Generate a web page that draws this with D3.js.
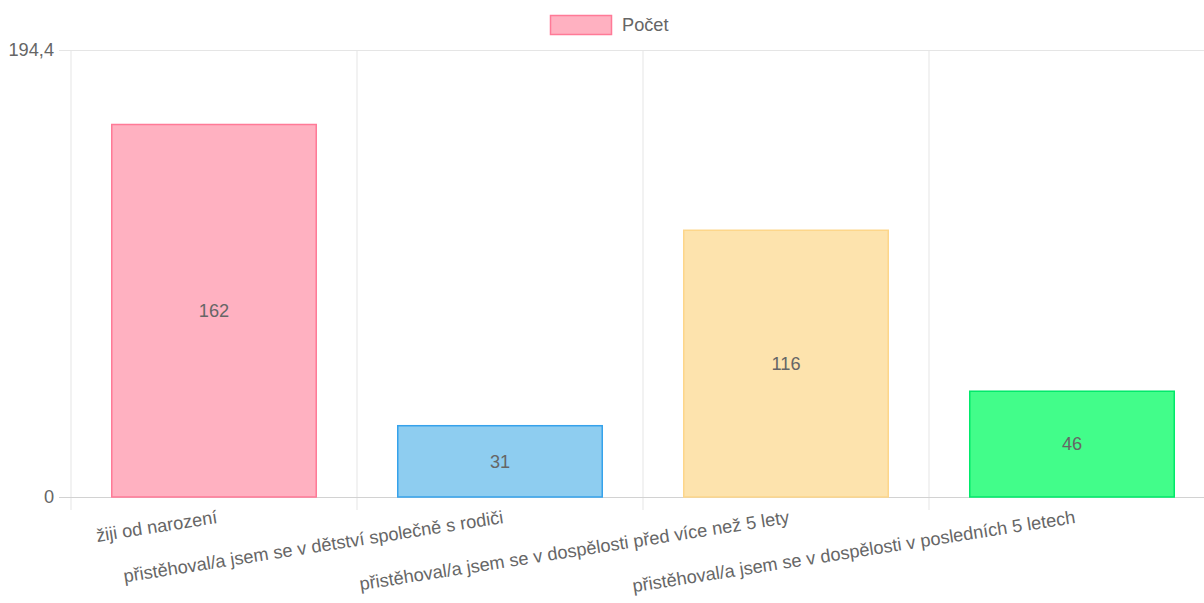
<!DOCTYPE html>
<html>
<head>
<meta charset="utf-8">
<script src="https://cdn.jsdelivr.net/npm/d3@7"></script>
<style>
  body{margin:0;background:#fff}
  text{font-family:"Liberation Sans",Arial,sans-serif;fill:#666}
</style>
</head>
<body>
<div id="chart"></div>
<script>
'use strict'
const categories = [
  "žiji od narození",
  "přistěhoval/a jsem se v dětství společně s rodiči",
  "přistěhoval/a jsem se v dospělosti před více než 5 lety",
  "přistěhoval/a jsem se v dospělosti v posledních 5 letech"
]
const values = [162, 31, 116, 46]
const yTicks = [0, 194.4]
const seriesName = "Počet"
const fills = ["#ffb1c1", "#8ecdf0", "#fde3ad", "#42fd8a"]
const strokes = ["#ff7a97", "#36a2eb", "#fdd68a", "#00e96a"]

const W = 1204, H = 603
const m = {left:71, top:50, right:1215, bottom:497}
const fs = 18.2

const svg = d3.select("#chart").append("svg")
  .attr("width", W).attr("height", H)

const x = d3.scaleBand().domain(categories).range([m.left, m.right]).paddingInner(0).paddingOuter(0)
const y = d3.scaleLinear().domain([0, yTicks[1]]).range([m.bottom, m.top])

// vertical grid lines at category boundaries
const bounds = categories.map(c => x(c)).concat([m.right])
svg.append("g").selectAll("line").data(bounds).enter()
  .append("line")
    .attr("x1", d => d).attr("x2", d => d)
    .attr("y1", m.top).attr("y2", m.bottom + 13)
    .attr("stroke", "#e5e5e5").attr("stroke-width", 1)

// horizontal grid + tick marks
svg.append("g").selectAll("line").data(yTicks).enter()
  .append("line")
    .attr("x1", m.left - 12).attr("x2", W)
    .attr("y1", d => Math.round(y(d)) + 0.5).attr("y2", d => Math.round(y(d)) + 0.5)
    .attr("stroke", d => d === 0 ? "#d2d2d2" : "#e5e5e5").attr("stroke-width", 1)

svg.append("g").selectAll("text").data(yTicks).enter()
  .append("text")
    .attr("x", m.left - 17)
    .attr("y", d => y(d))
    .attr("dy", "0.35em")
    .attr("text-anchor", "end")
    .attr("font-size", fs)
    .text(d => d3.format(",")(d).replace(".", ","))

// bars
const bw = x.bandwidth() * 0.715
svg.append("g").selectAll("rect").data(values).enter()
  .append("rect")
    .attr("x", (d, i) => x(categories[i]) + (x.bandwidth() - bw) / 2)
    .attr("y", d => y(d))
    .attr("width", bw)
    .attr("height", d => y(0) - y(d))
    .attr("fill", (d, i) => fills[i])
    .attr("stroke", (d, i) => strokes[i])
    .attr("stroke-width", 1.5)

// value labels
svg.append("g").selectAll("text").data(values).enter()
  .append("text")
    .attr("x", (d, i) => x(categories[i]) + x.bandwidth() / 2)
    .attr("y", d => (y(d) + y(0)) / 2)
    .attr("dy", "0.35em")
    .attr("text-anchor", "middle")
    .attr("font-size", fs)
    .text(d => d)

// category labels, rotated
svg.append("g").selectAll("text").data(categories).enter()
  .append("text")
    .attr("text-anchor", "end")
    .attr("font-size", fs)
    .attr("transform", d => `translate(${x(d) + x.bandwidth() / 2 + 4},${m.bottom + 26}) rotate(-8.9)`)
    .text(d => d)

// legend
const lg = svg.append("g")
lg.append("rect")
  .attr("x", 550.5).attr("y", 15.5).attr("width", 61).attr("height", 19)
  .attr("fill", fills[0]).attr("stroke", strokes[0]).attr("stroke-width", 1.5)
lg.append("text")
  .attr("x", 622).attr("y", 25).attr("dy", "0.35em")
  .attr("font-size", fs)
  .text(seriesName)
</script>
</body>
</html>
